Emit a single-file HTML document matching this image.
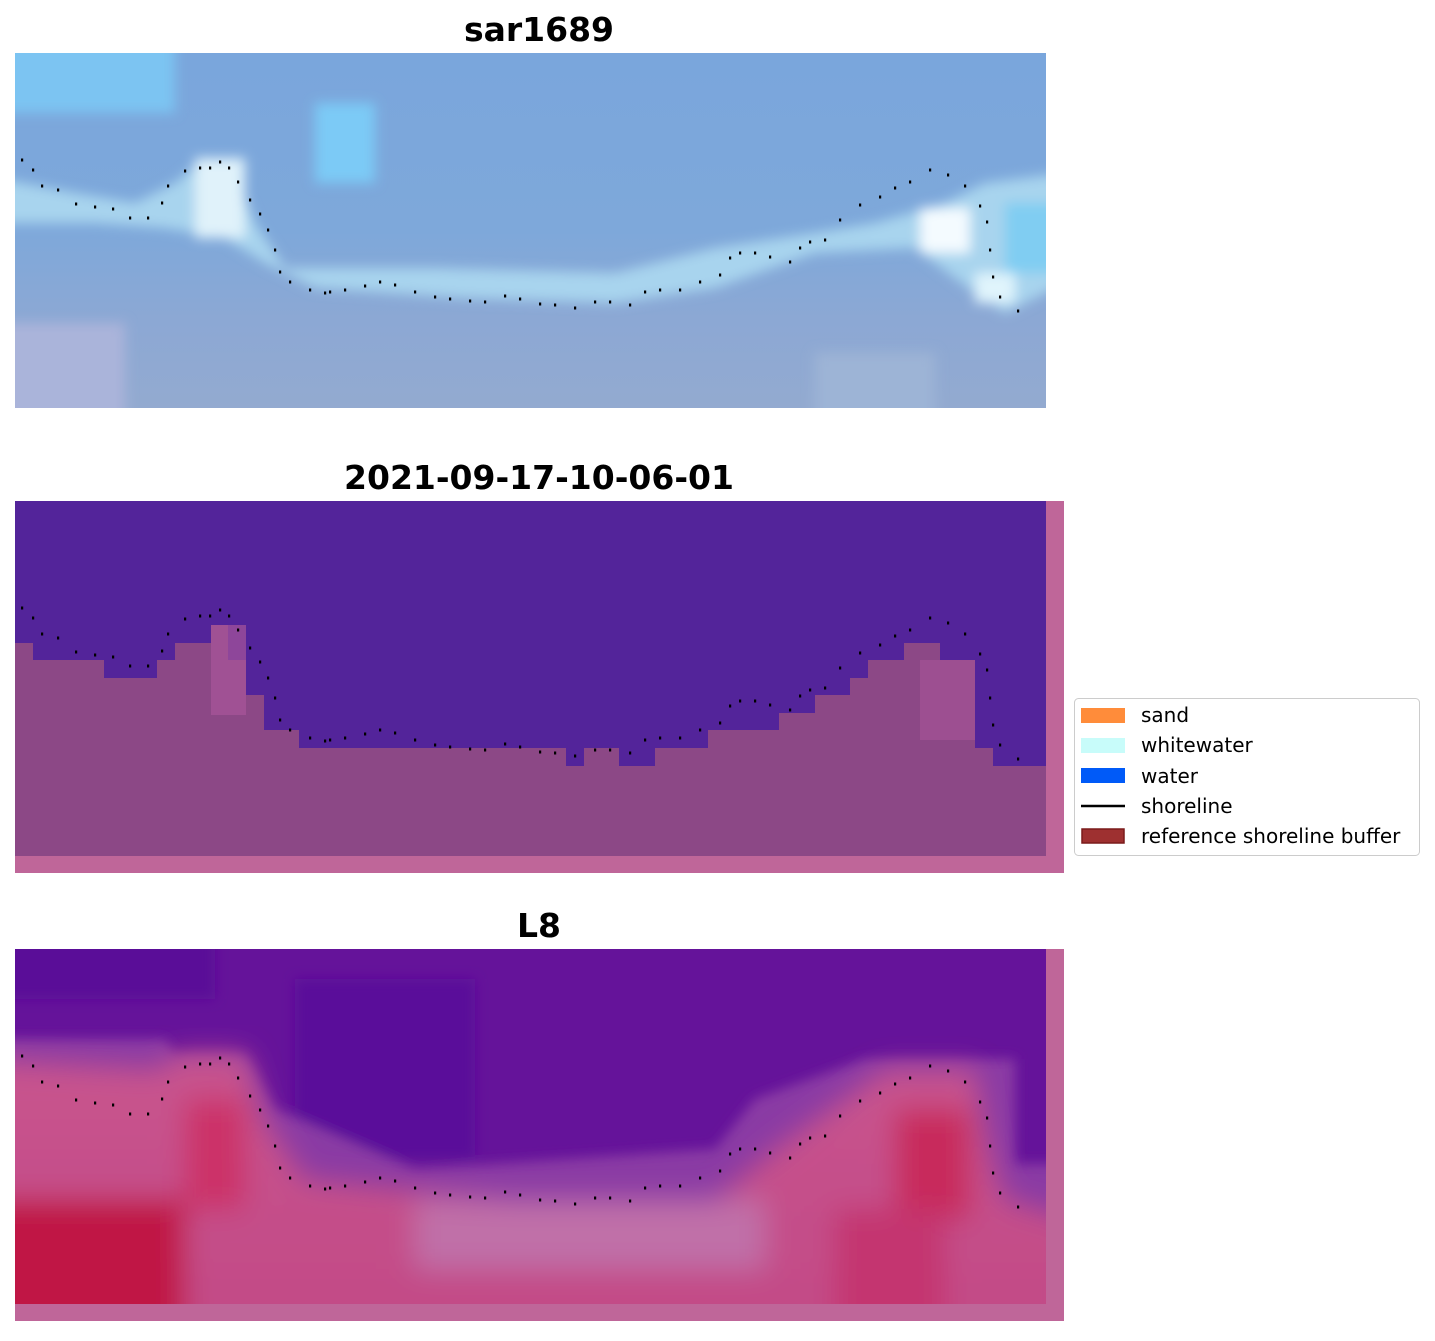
<!DOCTYPE html>
<html><head><meta charset="utf-8"><style>
body{margin:0;background:#fff;width:1435px;height:1337px;overflow:hidden;font-family:"DejaVu Sans","Liberation Sans",sans-serif}
</style></head><body>
<svg id="s" width="1435" height="1337" xmlns="http://www.w3.org/2000/svg">
<defs>
<linearGradient id="g1" x1="0" y1="0" x2="0" y2="1">
<stop offset="0" stop-color="#7aa6dc"/><stop offset="0.5" stop-color="#7ea8da"/><stop offset="0.75" stop-color="#8ca8d4"/><stop offset="1" stop-color="#93aad0"/></linearGradient>
<linearGradient id="g3" x1="0" y1="0" x2="0" y2="1">
<stop offset="0" stop-color="#c8548e"/><stop offset="1" stop-color="#c24a86"/></linearGradient>
<filter id="b"><feGaussianBlur stdDeviation="14"/></filter>
<filter id="b2"><feGaussianBlur stdDeviation="6"/></filter>
</defs>
<g font-weight="bold" font-size="33" text-anchor="middle" fill="#000">
<text x="539" y="41">sar1689</text>
<text x="539" y="489">2021-09-17-10-06-01</text>
<text x="539" y="937">L8</text>
</g>
<!-- panel 1 -->
<svg x="15" y="53" width="1031" height="355">
<rect width="1031" height="355" fill="url(#g1)"/>
<g filter="url(#b2)">
<rect x="-20" y="-20" width="180" height="80" fill="#7cc4f2"/>
<rect x="300" y="50" width="60" height="80" fill="#7ccaf6"/>
<polygon points="-20,125 60,140 120,150 160,130 190,105 215,110 240,170 270,215 330,215 420,215 600,220 700,195 800,180 860,170 930,150 970,130 1050,120 1050,230 990,260 960,240 900,195 800,200 700,235 600,250 450,245 300,235 250,210 210,185 150,175 80,170 -20,170" fill="#a8d4ee"/>
<rect x="180" y="105" width="50" height="80" fill="#e0f2fa"/>
<rect x="905" y="155" width="50" height="45" fill="#f4fbff"/>
<rect x="960" y="220" width="40" height="30" fill="#e0f4fc"/>
<rect x="990" y="150" width="60" height="70" fill="#80cdf2"/>
<rect x="-20" y="270" width="130" height="105" fill="#aab4da"/>
<rect x="800" y="300" width="120" height="75" fill="#9db4d6"/>
</g>
</svg>
<!-- panel 2 -->
<rect x="15" y="501" width="1049" height="372" fill="#bf6699"/>
<rect x="15" y="501" width="1031" height="355" fill="#53249a"/>
<polygon fill="#8c4886" points="15,643 33,643 33,660 104,660 104,678 157,678 157,660 175,660 175,643 211,643 211,625 228,625 228,660 246,660 246,695 264,695 264,730 299,730 299,748 566,748 566,766 584,766 584,748 619,748 619,766 655,766 655,748 708,748 708,730 779,730 779,713 815,713 815,695 850,695 850,678 868,678 868,660 904,660 904,643 940,643 940,660 975,660 975,748 993,748 993,766 1046,766 1046,856 15,856"/>
<rect x="211" y="625" width="35" height="90" fill="#a8559a" opacity="0.7"/>
<rect x="920" y="660" width="55" height="80" fill="#a8559a" opacity="0.6"/>
<!-- panel 3 -->
<rect x="15" y="949" width="1049" height="372" fill="#bf6699"/>
<svg x="15" y="949" width="1031" height="355">
<rect width="1031" height="355" fill="#65139a"/>
<g filter="url(#b2)">
<rect x="-20" y="-20" width="220" height="70" fill="#5a0c98"/>
<rect x="280" y="30" width="180" height="180" fill="#5a0a9a"/>
<polygon fill="#8a3aa4" points="-20,90 150,90 160,105 230,105 260,160 400,220 700,200 740,150 850,110 1000,110 1000,215 1050,215 1050,380 -20,380"/>
</g>
<g filter="url(#b)">
<polygon fill="url(#g3)" points="-30,110 145,120 160,105 230,105 250,170 290,230 500,250 700,250 760,200 830,150 870,120 960,120 975,200 990,250 1060,270 1060,390 -30,390"/>
<rect x="-30" y="250" width="200" height="140" fill="#c01845"/>
<rect x="170" y="150" width="60" height="110" fill="#cc3068"/>
<rect x="880" y="160" width="75" height="110" fill="#c82a5c"/>
<rect x="820" y="260" width="110" height="130" fill="#c43670"/>
<rect x="400" y="250" width="350" height="70" fill="#c070a8"/>
</g>
</svg>
<g id="dots" fill="#000"></g>
<!-- legend -->
<rect x="1074.5" y="698.5" width="345" height="157" rx="4" fill="#fff" stroke="#ccc"/>
<rect x="1081" y="708" width="44" height="15" fill="#ff8c3a"/>
<rect x="1081" y="738" width="44" height="15" fill="#c8fcfa"/>
<rect x="1081" y="768" width="44" height="15" fill="#005af8"/>
<line x1="1081" y1="806" x2="1125" y2="806" stroke="#000" stroke-width="2.5"/>
<rect x="1082" y="829" width="42" height="14" fill="#9e3030" stroke="#7a1a1a" stroke-width="1.5"/>
<g font-size="20" fill="#000">
<text x="1141" y="722">sand</text>
<text x="1141" y="752">whitewater</text>
<text x="1141" y="783">water</text>
<text x="1141" y="813">shoreline</text>
<text x="1141" y="843">reference shoreline buffer</text>
</g>
</svg>
<script>
var p=[[22,160],[33,170],[42,186],[58,190],[76,204],[95,207],[113,209],[130,218],[148,218],[162,203],[168,186],[185,171],[200,168],[210,168],[220,162],[229,168],[238,182],[250,200],[260,214],[268,230],[275,250],[280,272],[290,282],[310,290],[325,293],[330,292],[345,290],[365,286],[380,282],[395,285],[415,292],[435,297],[450,299],[470,301],[485,302],[505,296],[520,299],[540,304],[555,305],[575,308],[595,302],[610,302],[630,305],[645,292],[660,290],[680,290],[700,282],[720,275],[730,258],[740,253],[755,253],[770,257],[790,262],[800,248],[810,242],[825,240],[840,220],[860,205],[880,197],[895,188],[910,182],[930,170],[948,175],[965,186],[980,206],[987,222],[990,250],[993,277],[1000,297],[1018,311]];
var g=document.getElementById('dots'),h='';
[0,448,896].forEach(function(o){p.forEach(function(q){h+='<rect x="'+(q[0]-1)+'" y="'+(q[1]+o-1.5)+'" width="2.2" height="3"/>';});});
g.innerHTML=h;
</script>
</body></html>
